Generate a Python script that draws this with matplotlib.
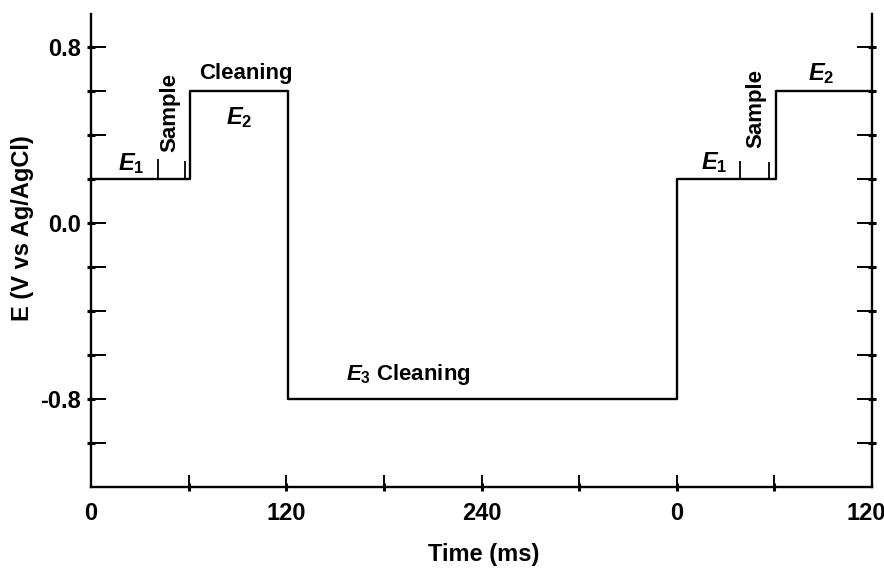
import numpy as np
import matplotlib.pyplot as plt
import matplotlib.transforms as mtransforms

plt.rcParams['font.family'] = ['Liberation Sans', 'DejaVu Sans']
plt.rcParams['font.weight'] = 'bold'
plt.rcParams['mathtext.fontset'] = 'custom'
plt.rcParams['mathtext.rm'] = 'Liberation Sans:bold'
plt.rcParams['mathtext.it'] = 'Liberation Sans:italic:bold'

# waveform (continuous time in ms, two cycles shown)
step_t = [0, 61, 121, 360, 421, 480]
step_E = [0.2, 0.6, -0.8, 0.2, 0.6, 0.6]

# sample markers on the E1 step
sample_t = [41, 58, 399, 417]
sample_h = [0.09, 0.08, 0.08, 0.075]

x_ticks = [0, 60, 120, 180, 240, 300, 360, 420, 480]
x_labels = ['0', '', '120', '', '240', '', '0', '', '120']
y_ticks = [-1.0, -0.8, -0.6, -0.4, -0.2, 0.0, 0.2, 0.4, 0.6, 0.8]
y_labels = ['', '-0.8', '', '', '', '0.0', '', '', '', '0.8']

fig = plt.figure(figsize=(8.84, 5.68), dpi=100)
ax = fig.add_axes([0.103, 0.1426, 0.8834, 0.8328])

ax.plot(step_t, step_E, drawstyle='steps-post', color='black', lw=1.7)
ax.vlines(sample_t, 0.2, 0.2 + np.array(sample_h), color='black', lw=1.3)

ax.set_xlim(0, 480)
ax.set_ylim(-1.2, 0.95)

for s in ['left', 'right', 'bottom']:
    ax.spines[s].set_linewidth(1.7)
ax.spines['top'].set_visible(False)

ax.set_xticks(x_ticks)
ax.set_xticklabels(x_labels, fontsize=17, fontweight='bold')
ax.set_yticks(y_ticks)
ax.set_yticklabels(y_labels, fontsize=17, fontweight='bold')
ax.tick_params(axis='x', direction='in', length=9, width=1.4, pad=11)
ax.tick_params(axis='y', direction='in', length=11, width=1.4, pad=7,
               right=True)

# last "120" sits a little left of the corner
lab = ax.get_xticklabels()[-1]
lab.set_transform(lab.get_transform() +
                  mtransforms.ScaledTranslation(-6 / 100, 0, fig.dpi_scale_trans))

# small crossing marks where the ticks sit on the axis
ax.xaxis.remove_overlapping_locs = False
ax.yaxis.remove_overlapping_locs = False
ax.set_xticks(x_ticks[1:-1], minor=True)
ax.set_yticks(y_ticks, minor=True)
ax.tick_params(which='minor', direction='inout', length=6, width=2.2)
ax.tick_params(axis='y', which='minor', right=True)

fig.text(0.547, 0.023, 'Time (ms)', fontsize=17, fontweight='bold',
         ha='center', va='center')
fig.text(0.025, 0.599, 'E (V vs Ag/AgCl)', fontsize=17, fontweight='bold',
         rotation=90, ha='center', va='center')

kw = dict(fontsize=17, ha='center', va='center')
ax.text(24.6, 0.27, '$E_1$', **kw)
ax.text(48.6, 0.50, 'Sample', rotation=90, fontsize=16, ha='center', va='center')
ax.text(95.3, 0.68, 'Cleaning', fontsize=16, ha='center', va='center')
ax.text(91, 0.48, '$E_2$', **kw)
ax.text(194.8, -0.69, '$E_3$ Cleaning', fontsize=16, ha='center', va='center')
ax.text(382.9, 0.276, '$E_1$', **kw)
ax.text(408.7, 0.52, 'Sample', rotation=90, fontsize=16, ha='center', va='center')
ax.text(448.6, 0.68, '$E_2$', **kw)

fig.savefig('out.png', dpi=100)
